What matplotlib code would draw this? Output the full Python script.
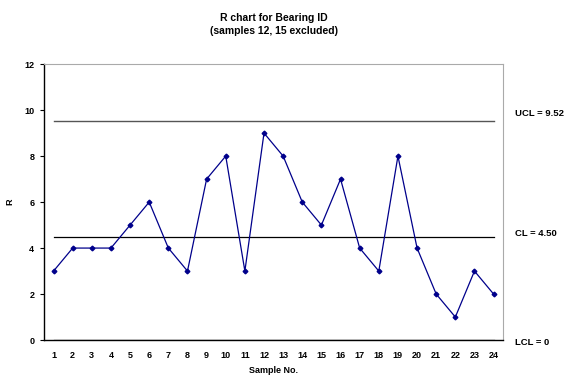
import matplotlib.pyplot as plt

plt.rcParams['font.family'] = ['Liberation Sans', 'DejaVu Sans']
plt.rcParams['font.weight'] = 'bold'

samples = list(range(1, 25))
r_values = [3, 4, 4, 4, 5, 6, 4, 3, 7, 8, 3, 9, 8, 6, 5, 7, 4, 3, 8, 4, 2, 1, 3, 2]
ucl = 9.52
cl = 4.50
lcl = 0

fig = plt.figure(figsize=(5.69, 3.77), dpi=100)
ax = fig.add_axes([0.0773, 0.098, 0.807, 0.732])

# control limits
ax.plot([samples[0], samples[-1]], [ucl, ucl], color='#555555', lw=1.0)
ax.plot([samples[0], samples[-1]], [cl, cl], color='black', lw=0.9)
ax.plot([samples[0], samples[-1]], [lcl, lcl], color='black', lw=0.9)

ax.plot(samples, r_values, color='#00008B', lw=0.9, marker='D', ms=2.4)

ax.set_xlim(0.5, 24.5)
ax.set_ylim(0, 12)
ax.set_xticks(samples)
ax.set_yticks(range(0, 13, 2))
ax.tick_params(axis='x', length=0, labelsize=6.5, pad=8)
ax.tick_params(axis='y', length=3, labelsize=6.5, pad=4)
for lab in ax.get_xticklabels() + ax.get_yticklabels():
    lab.set_fontweight('bold')

ax.spines['top'].set_color('#aaaaaa')
ax.spines['right'].set_color('#aaaaaa')
ax.spines['left'].set_linewidth(1.0)
ax.spines['bottom'].set_linewidth(1.0)

ax.set_xlabel('Sample No.', fontsize=6.5, fontweight='bold')
ax.xaxis.set_label_coords(0.5, -0.093)
ax.set_ylabel('R', fontsize=6.5, fontweight='bold')
ax.yaxis.set_label_coords(-0.065, 0.5)
ax.set_title('R chart for Bearing ID\n(samples 12, 15 excluded)', fontsize=7.5,
             fontweight='bold', pad=22, linespacing=1.3)

for val, text, dy in [(ucl, 'UCL = 9.52', 0.35), (cl, 'CL = 4.50', 0.15), (lcl, 'LCL = 0', -0.1)]:
    ax.text(25.1, val + dy, text, fontsize=6.8, fontweight='bold', va='center',
            ha='left', clip_on=False)

fig.savefig('out.png', dpi=100)
